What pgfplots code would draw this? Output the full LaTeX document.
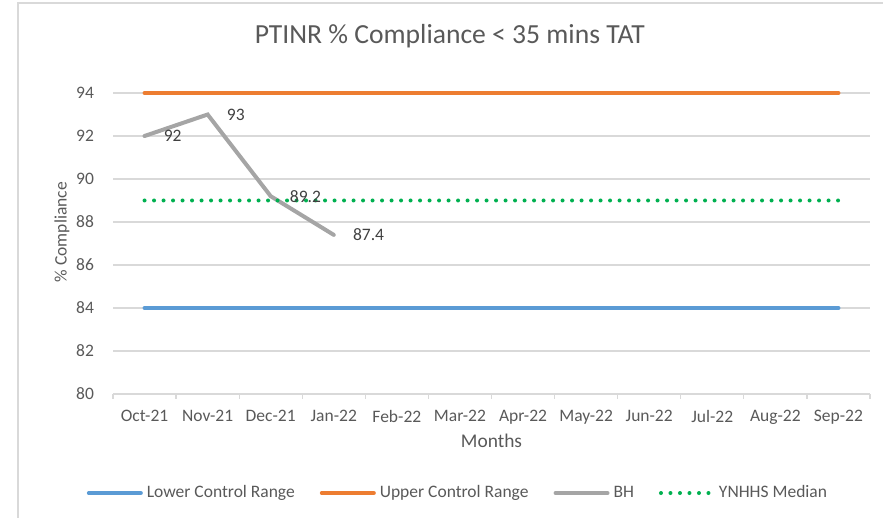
\documentclass[border=0pt]{standalone}
\usepackage{pgfplots}
\pgfplotsset{compat=1.18}
\usepackage{fontspec}
\setmainfont{Carlito}
\definecolor{cblue}{HTML}{5B9BD5}
\definecolor{corange}{HTML}{ED7D31}
\definecolor{cgray}{HTML}{A5A5A5}
\definecolor{cgreen}{HTML}{00B050}
\definecolor{ctext}{HTML}{595959}
\definecolor{cgrid}{HTML}{D9D9D9}
\definecolor{clabel}{HTML}{404040}
\begin{document}
\begin{tikzpicture}
\path[use as bounding box] (0,0) rectangle (441.5pt,259pt);
\draw[cgrid, line width=0.9pt] (9pt,-2pt) -- (9pt,257.6pt) -- (445pt,257.6pt);
\begin{axis}[
  at={(56.5pt,62pt)}, anchor=south west,
  scale only axis, width=378.5pt, height=150.5pt,
  xmin=-0.5, xmax=11.5, ymin=80, ymax=94,
  ytick={80,82,...,94},
  xtick={0,...,11},
  xticklabels={Oct-21,Nov-21,Dec-21,Jan-22,Feb-22,Mar-22,Apr-22,May-22,Jun-22,Jul-22,Aug-22,Sep-22},
  minor xtick={-0.5,0.5,...,11.5},
  major tick length=0pt,
  minor tick length=2.5pt,
  tick align=outside,
  minor x tick style={cgrid, line width=0.6pt},
  axis x line*=bottom, axis y line*=left,
  axis line style={-},
  x axis line style={cgrid, line width=0.6pt},
  y axis line style={draw=none},
  ymajorgrids, grid style={cgrid, line width=0.6pt},
  tick label style={font=\fontsize{8.75}{10}\selectfont, text=ctext},
  /pgf/number format/assume math mode=true,
  xticklabel style={yshift=-4.5pt},
  yticklabel style={xshift=-6pt},
  xlabel={Months}, ylabel={\% Compliance},
  xlabel style={at={(axis description cs:0.5,-0.156)}, anchor=center, font=\fontsize{9.7}{11}\selectfont, text=ctext},
  ylabel style={at={(axis description cs:-0.0674,0.538)}, anchor=center, rotate=0, font=\fontsize{8.75}{10}\selectfont, text=ctext},
  title={PTINR \% Compliance < 35 mins TAT},
  title style={at={(axis description cs:0.445,1.149)}, anchor=center, font=\fontsize{13.8}{15}\selectfont, text=ctext},
  legend columns=4,
  legend style={at={(axis description cs:0.457,-0.329)}, anchor=center, draw=none, fill=none,
    font=\fontsize{8.75}{10}\selectfont, text=ctext,
    /tikz/every even column/.append style={column sep=10.5pt}},
  legend cell align=left,
  legend image code/.code={\draw[#1] (0pt,0pt) -- (26pt,0pt);},
  clip=false,
]
\addplot[cblue, line width=2pt, line cap=round] coordinates {(0,84) (11,84)};
\addlegendentry{Lower Control Range}
\addplot[corange, line width=2pt, line cap=round] coordinates {(0,94) (11,94)};
\addlegendentry{Upper Control Range}
\addplot[cgray, line width=2pt, line cap=round,
  nodes near coords, point meta=explicit symbolic,
  every node near coord/.style={anchor=west, xshift=5.3pt, font=\fontsize{8.75}{10}\selectfont, text=clabel}]
  coordinates {(0,92)[92] (1,93)[93] (2,89.2)[89.2] (3,87.4)[87.4]};
\addlegendentry{BH}
\addplot[cgreen, line width=2pt, line cap=round, dash pattern=on 0pt off 4.75pt] coordinates {(0,89) (11,89)};
\addlegendentry{YNHHS Median}
\end{axis}
\end{tikzpicture}
\end{document}
